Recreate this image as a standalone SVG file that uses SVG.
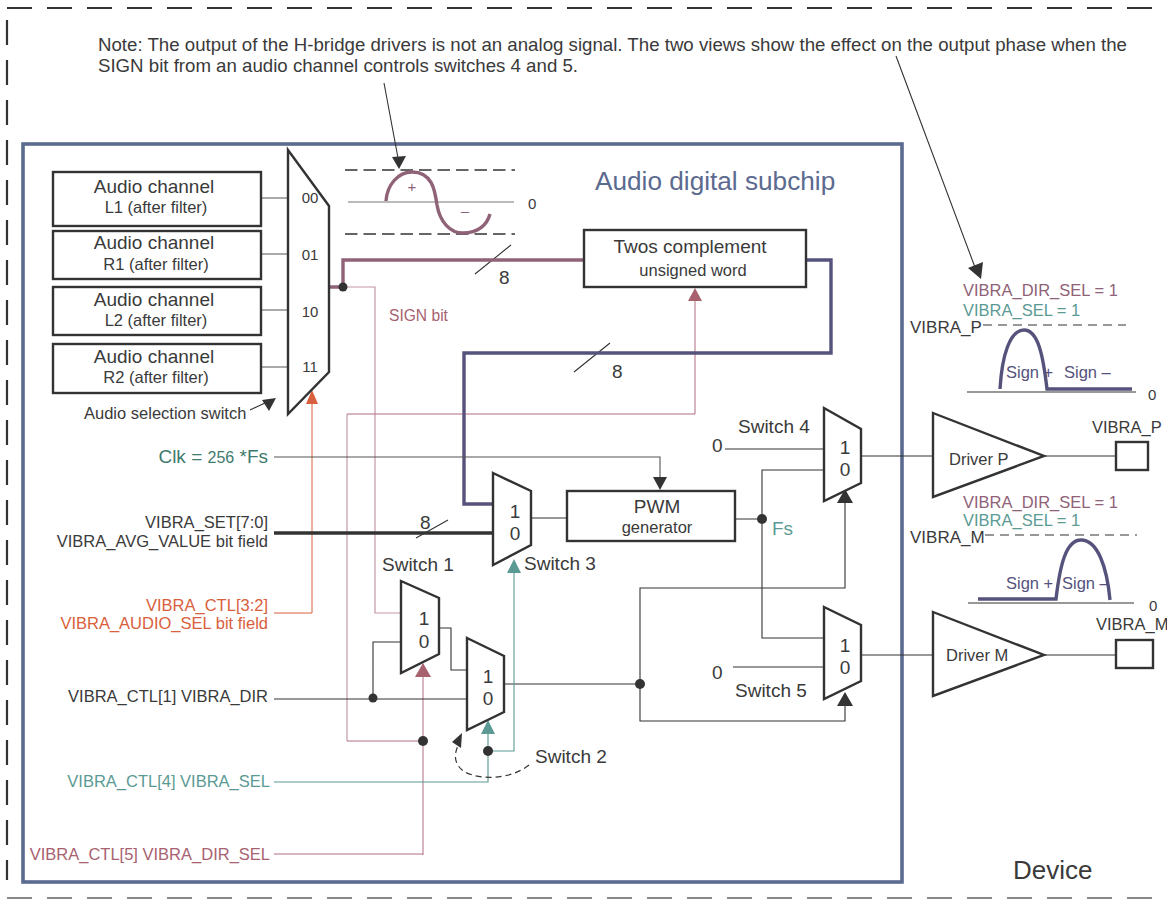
<svg xmlns="http://www.w3.org/2000/svg" width="1167" height="899" viewBox="0 0 1167 899">
<style>
text{font-family:"Liberation Sans",Arial,sans-serif;fill:#3a3a3a;}
.t19{font-size:19px}.t165{font-size:16.5px}.t15{font-size:15px}
.m{text-anchor:middle}.e{text-anchor:end}
.box{fill:#fff;stroke:#333;stroke-width:2.4}
.mux{fill:#fff;stroke:#333;stroke-width:2.4;stroke-linejoin:miter}
.w{fill:none;stroke:#333;stroke-width:1.1}
.pk{fill:none;stroke:#b06f80;stroke-width:1}
.lp{fill:none;stroke:#c398a6;stroke-width:1.2}
.tl{fill:none;stroke:#5b9a94;stroke-width:1.1}
.or{fill:none;stroke:#d9603c;stroke-width:1}
.pur{fill:none;stroke:#8f6277;stroke-width:3.4}
.nav{fill:none;stroke:#55527c;stroke-width:3.4}
.dash{fill:none;stroke:#333;stroke-width:1.6;stroke-dasharray:12.5 6}
.dot{fill:#333}
.cteal{fill:#5b9a94}.cor{fill:#d9603c}.cpk{fill:#a8616f}
</style>
<g id="frame">
<path d="M7 8H1167" fill="none" stroke="#333" stroke-width="2" stroke-dasharray="25 15"/>
<path d="M7 20V880" fill="none" stroke="#333" stroke-width="2.2" stroke-dasharray="25 15"/>
<path d="M7 898H1167" fill="none" stroke="#888" stroke-width="2" stroke-dasharray="25 15"/>
<rect x="23" y="144" width="879" height="738" fill="none" stroke="#5b6a8f" stroke-width="3.6"/>
<text x="595" y="190" font-size="26.2" style="fill:#5b6a8f">Audio digital subchip</text>
<text x="1013" y="879" font-size="26">Device</text>
</g>
<g id="note">
<text x="98" y="51" font-size="18.66" textLength="1029">Note: The output of the H-bridge drivers is not an analog signal. The two views show the effect on the output phase when the</text>
<text x="98" y="72" font-size="18.66" textLength="480">SIGN bit from an audio channel controls switches 4 and 5.</text>
</g>
<g id="connectors">
<path class="w" d="M384 83L398 158M896 56L976 270"/>
<path class="dot" d="M392 157L406 156L399 169ZM968 268L983 262L981 279Z"/>
<path class="w" d="M261 198H289M261 254H289M261 310H289M261 367H289" style="stroke:#555"/>
<path class="w" d="M250 410L265 403M475 274L511 245M574 372L610 343M416 538L448 520"/>
<path class="dot" d="M262 400L276 398L269 411Z"/>
<path class="lp" d="M343 287H375V613H401"/>
<path class="lp" d="M347 741V414"/>
<path class="pk" d="M347 414H695V300M347 741H423M423 855V664M274 854H423"/>
<path class="cpk" d="M688 301L695 288L702 301Z"/>
<path class="cpk" d="M415 677L423 663L431 677Z"/>
<path class="or" d="M274 613H312V402"/>
<path class="cor" d="M306 404L312 390L318 404Z"/>
<path class="pur" d="M329 287H343V260H584"/>
<path class="nav" d="M806 260H831V353H464V504H492"/>
<path fill="none" stroke="#333" stroke-width="3.6" d="M274 533H492"/>
<path class="w" d="M274 457H660V480" style="stroke:#555"/>
<path class="dot" d="M653 477L667 477L660 490Z"/>
<path class="w" d="M531 518H567M735 519H762M762 519V470H823M762 519V638H823M725 449H823M733 667H823M861 456H933M861 655H933M1044 456H1116M1044 655H1116"/>
<path class="w" d="M504 684H640M640 684V588H845V503M640 684V721H845V706M401 642H373V699M274 699H467M439 628H451V670H467"/>
<path class="dot" d="M837 503L845 489L853 503ZM837 706L845 692L853 706Z"/>
<path class="tl" d="M274 782H488V733M488 751H514V572"/>
<path class="cteal" d="M481 734L488 720L495 734ZM507 573L514 559L521 573Z"/>
<path fill="none" stroke="#333" stroke-width="1.2" stroke-dasharray="6 4" d="M529 765C510 780 480 780 465 772C455 766 452 755 460 742"/>
<path class="dot" d="M452 742L462 733L461 748Z"/>
<circle class="dot" cx="343" cy="287" r="4.5"/><circle class="dot" cx="373" cy="698" r="4.5"/><circle class="dot" cx="423" cy="741" r="5"/><circle class="dot" cx="488" cy="751" r="5"/><circle class="dot" cx="640" cy="684" r="5"/><circle class="dot" cx="762" cy="519" r="5"/>
</g>
<g id="ch1"><rect class="box" x="53" y="172" width="208" height="54"/><text class="t19 m" x="154" y="193">Audio channel</text><text class="t165 m" x="156" y="213">L1 (after filter)</text></g>
<g id="ch2"><rect class="box" x="53" y="231" width="208" height="48"/><text class="t19 m" x="154" y="249">Audio channel</text><text class="t165 m" x="156" y="270">R1 (after filter)</text></g>
<g id="ch3"><rect class="box" x="53" y="287" width="208" height="48"/><text class="t19 m" x="154" y="306">Audio channel</text><text class="t165 m" x="156" y="326">L2 (after filter)</text></g>
<g id="ch4"><rect class="box" x="53" y="344" width="208" height="49"/><text class="t19 m" x="154" y="363">Audio channel</text><text class="t165 m" x="156" y="383">R2 (after filter)</text></g>
<g id="audio-mux"><path class="mux" d="M288 150L329 206V372L288 414Z"/><text class="t15 m" x="310" y="203">00</text><text class="t15 m" x="310" y="260">01</text><text class="t15 m" x="310" y="317">10</text><text class="t15 m" x="310" y="372">11</text></g>
<g id="waveform">
<path class="dash" d="M345 170H515M345 234H515"/>
<path d="M348 202H514" fill="none" stroke="#777" stroke-width="1.2"/>
<path class="pur" d="M386 201C387 185 398 172 412 172C432 172 435 190 437 205C440 222 450 233 463 233C478 233 487 225 490 214"/>
<text class="t15 m" x="412" y="192" style="fill:#8f6277">+</text><text class="t15 m" x="465" y="216" style="fill:#8f6277">–</text>
<text class="t15" x="528" y="209">0</text>
</g>
<g id="twos"><rect class="box" x="584" y="230" width="222" height="57"/><text class="t19 m" x="690" y="253">Twos complement</text><text class="t165 m" x="693" y="276">unsigned word</text></g>
<g id="pwm"><rect class="box" x="567" y="491" width="168" height="50"/><text class="t19 m" x="657" y="513">PWM</text><text class="t165 m" x="657" y="533">generator</text></g>
<g id="sw3"><path class="mux" d="M493 473L531 491V545L493 565Z"/><text class="t19 m" x="515" y="518">1</text><text class="t19 m" x="515" y="540">0</text></g>
<g id="sw1"><path class="mux" d="M401 581L439 598V654L401 673Z"/><text class="t19 m" x="424" y="625">1</text><text class="t19 m" x="424" y="648">0</text></g>
<g id="sw2"><path class="mux" d="M467 638L504 656V712L467 730Z"/><text class="t19 m" x="488" y="683">1</text><text class="t19 m" x="488" y="705">0</text></g>
<g id="sw4"><path class="mux" d="M824 408L861 429V483L824 501Z"/><text class="t19 m" x="845" y="454">1</text><text class="t19 m" x="845" y="476">0</text></g>
<g id="sw5"><path class="mux" d="M824 607L861 625V681L824 699Z"/><text class="t19 m" x="845" y="652">1</text><text class="t19 m" x="845" y="674">0</text></g>
<g id="driver-p"><path class="mux" d="M933 413L1044 456L933 497Z"/><text class="t165" x="949" y="465">Driver P</text></g>
<g id="driver-m"><path class="mux" d="M933 612L1044 655L933 696Z"/><text class="t165" x="946" y="661">Driver M</text></g>
<g id="pad-p"><rect class="box" x="1116" y="442" width="32" height="28"/><text font-size="16.5" x="1092" y="433">VIBRA_P</text></g>
<g id="pad-m"><rect class="box" x="1116" y="640" width="37" height="28"/><text font-size="16.5" x="1096" y="630">VIBRA_M</text></g>
<g id="labels">
<text class="t165" x="84" y="419">Audio selection switch</text>
<text font-size="15.6" x="389" y="321" style="fill:#a8616f">SIGN bit</text>
<text class="t19" x="499" y="284">8</text><text class="t19" x="612" y="378">8</text><text class="t19" x="420" y="529">8</text>
<text class="t19 e" x="268" y="463" style="fill:#3f7a6e">Clk = <tspan font-size="16">256</tspan> *Fs</text>
<text class="t165 e" x="268" y="528">VIBRA_SET[7:0]</text><text class="t165 e" x="268" y="547">VIBRA_AVG_VALUE bit field</text>
<text class="t165 e" x="268" y="611" style="fill:#d9603c">VIBRA_CTL[3:2]</text><text class="t165 e" x="268" y="629" style="fill:#d9603c">VIBRA_AUDIO_SEL bit field</text>
<text class="t165 e" x="268" y="702">VIBRA_CTL[1] VIBRA_DIR</text>
<text class="t165 e" x="270" y="787" style="fill:#5b9a94">VIBRA_CTL[4] VIBRA_SEL</text>
<text class="t165 e" x="270" y="860" style="fill:#a8616f">VIBRA_CTL[5] VIBRA_DIR_SEL</text>
<text class="t19" x="382" y="571">Switch 1</text><text class="t19" x="524" y="570">Switch 3</text><text class="t19" x="535" y="763">Switch 2</text><text class="t19" x="738" y="433">Switch 4</text><text class="t19" x="735" y="697">Switch 5</text>
<text class="t19" x="712" y="452">0</text><text class="t19" x="712" y="679">0</text>
<text class="t19" x="772" y="535" style="fill:#5b9a94">Fs</text>
</g>
<g id="view-p">
<text class="t165" x="963" y="296" style="fill:#8f6277">VIBRA_DIR_SEL = 1</text><text class="t165" x="963" y="316" style="fill:#5b9a94">VIBRA_SEL = 1</text>
<text font-size="17" x="910" y="333">VIBRA_P</text>
<path d="M983 325H1126" fill="none" stroke="#333" stroke-width="1.2" stroke-dasharray="9 6"/>
<path d="M967 392H1136" fill="none" stroke="#333" stroke-width="1.2"/>
<path class="nav" d="M1000 389C1002 355 1010 330 1024 330C1038 330 1043 355 1047 389H1132"/>
<text class="t165" x="1006" y="378" style="fill:#55527c">Sign +</text><text class="t165" x="1064" y="378" style="fill:#55527c">Sign –</text>
<text class="t15" x="1148" y="400">0</text>
</g>
<g id="view-m">
<text class="t165" x="963" y="508" style="fill:#8f6277">VIBRA_DIR_SEL = 1</text><text class="t165" x="963" y="526" style="fill:#5b9a94">VIBRA_SEL = 1</text>
<text font-size="17" x="910" y="543">VIBRA_M</text>
<path d="M985 535H1137" fill="none" stroke="#333" stroke-width="1.2" stroke-dasharray="9 6"/>
<path d="M968 603H1134" fill="none" stroke="#333" stroke-width="1.2"/>
<path class="nav" d="M978 599H1056C1060 565 1066 540 1081 540C1098 540 1107 568 1110 600"/>
<text class="t165" x="1006" y="589" style="fill:#55527c">Sign +</text><text class="t165" x="1062" y="589" style="fill:#55527c">Sign –</text>
<text class="t15" x="1149" y="611">0</text>
</g>
</svg>
